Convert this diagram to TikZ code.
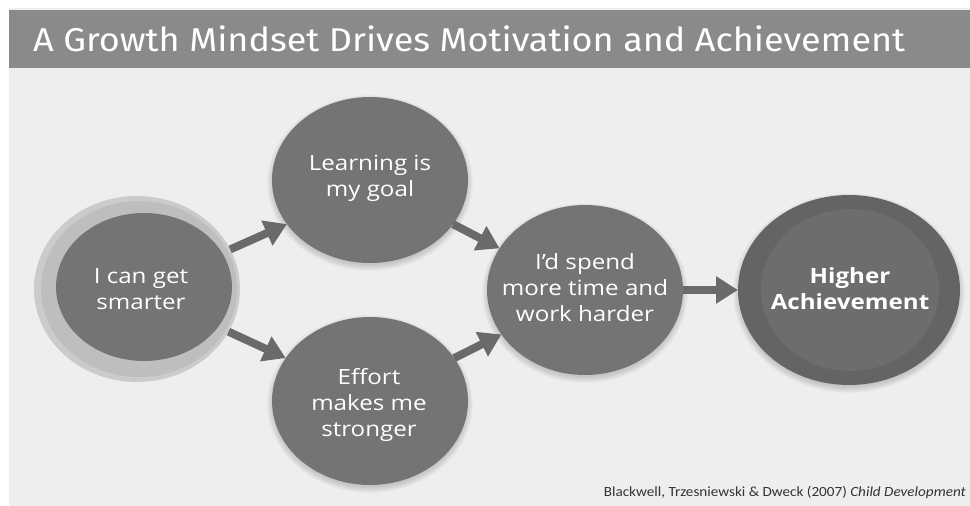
\documentclass[tikz,border=0pt]{standalone}
\usepackage{fontspec}
\usepackage{graphicx}
\setmainfont{Open Sans}[FakeStretch=1.15]
\newfontfamily\headfont{Fira Sans}
\newfontfamily\reffont{Carlito}
\usetikzlibrary{shapes.geometric,arrows.meta}

\definecolor{pagebg}{HTML}{EEEEEE}
\definecolor{barcol}{HTML}{8A8A8A}
\definecolor{bubble}{HTML}{747474}
\definecolor{ringcol}{HTML}{BEBEBE}
\definecolor{ringedge}{HTML}{CBCBCB}
\definecolor{arrowcol}{HTML}{6A6A6A}
\definecolor{goalouter}{HTML}{646464}
\definecolor{goalinner}{HTML}{6D6D6D}
\definecolor{refcol}{HTML}{333333}

\tikzset{
  blob/.style={ellipse, fill=bubble, draw=none, inner sep=0pt, outer sep=0pt},
  blabel/.style={text=white, align=center, font=\fontsize{21}{26}\selectfont},
  flow/.style={draw=arrowcol, line width=8pt, -{Triangle[length=22pt,width=26pt]}},
}

% soft shadow: #1 centre, #2 x radius, #3 y radius (pt)
\newcommand\softshade[3]{%
  \foreach \g in {1,...,7}{%
    \fill[black, opacity=0.022] ($(#1)+(0,3)$) ellipse [x radius=#2pt+\g pt, y radius=#3pt+\g pt];
  }}

\usetikzlibrary{calc}

\begin{document}
\begin{tikzpicture}[x=1pt,y=-1pt]
  \useasboundingbox (0,0) rectangle (970,506);
  \fill[white] (0,0) rectangle (970,506);
  \fill[pagebg] (9,8) rectangle (970,506);

  % heading band
  \fill[barcol] (9,10) rectangle (970,68);
  \node[anchor=base west, inner sep=0pt, text=white] (title) at (33,51)
    {\resizebox{872pt}{\height}{\headfont\fontsize{33}{33}\selectfont A Growth Mindset Drives Motivation and Achievement}};

  % shadows under the discs
  \coordinate (cstart) at (137,289);
  \coordinate (clearn) at (370,180);
  \coordinate (ceffort) at (370,401);
  \coordinate (cspend) at (585,290);
  \coordinate (cgoal) at (849,290);
  \softshade{clearn}{96}{81}
  \softshade{ceffort}{96}{82}
  \softshade{cspend}{96}{83}
  \softshade{cgoal}{109}{93}

  % starting belief: dark disc on a light halo
  \node[blob, fill=ringedge, minimum width=206pt, minimum height=186pt] (halo) at (cstart) {};
  \node[blob, fill=ringcol, minimum width=196pt, minimum height=176pt] (start) at (139,289) {};
  \node[blob, minimum width=176pt, minimum height=148pt] (startin) at (144,287) {};
  \node[blabel] (tstart) at (141,289) {I can get\\smarter};

  % intermediate beliefs
  \node[blob, minimum width=196pt, minimum height=166pt] (learn) at (clearn) {};
  \node[blabel] (tlearn) at (370,178) {Learning is\\my goal};

  \node[blob, minimum width=196pt, minimum height=168pt] (effort) at (ceffort) {};
  \node[blabel] (teffort) at (369,405) {Effort\\makes me\\stronger};

  \node[blob, minimum width=196pt, minimum height=170pt] (spend) at (cspend) {};
  \node[blabel] (tspend) at (585,288) {I'd spend\\more time and\\work harder};

  % outcome
  \node[blob, fill=goalouter, minimum width=222pt, minimum height=190pt] (goal) at (cgoal) {};
  \node[blob, fill=goalinner, minimum width=178pt, minimum height=162pt] (goalin) at (850,290) {};
  \node[blabel, font=\fontsize{21}{26}\selectfont\bfseries] (tgoal) at (850,289) {Higher\\Achievement};

  % connectors
  \draw[flow] (halo.23) -- (learn.208);
  \draw[flow] (halo.-25) -- (effort.153);
  \draw[flow] (learn.-28) -- (spend.154);
  \draw[flow] (effort.27) -- (spend.208);
  \draw[flow] (spend.east) -- (goal.west);

  % source
  \node[anchor=base east, inner sep=0pt, text=refcol] (source) at (966,496)
    {\resizebox{362pt}{\height}{\reffont\fontsize{14}{14}\selectfont Blackwell, Trzesniewski \& Dweck (2007) \textit{Child Development}}};
\end{tikzpicture}
\end{document}
